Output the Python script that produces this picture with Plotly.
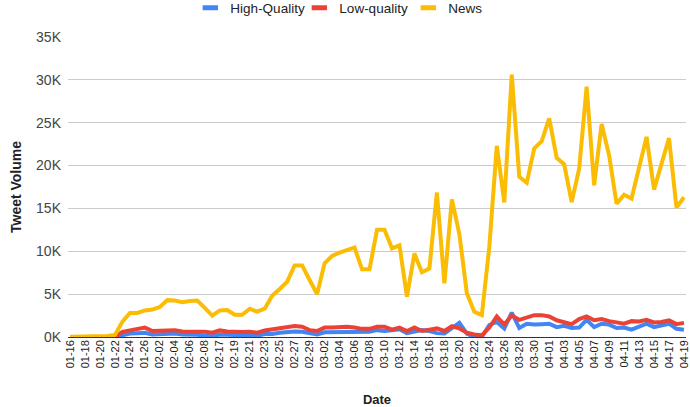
import plotly.graph_objects as go

dates = (["01-%02d" % d for d in range(16, 28)]
         + ["02-%02d" % d for d in range(2, 10)]
         + ["02-%02d" % d for d in range(17, 30)]
         + ["03-%02d" % d for d in range(1, 32)]
         + ["04-%02d" % d for d in range(1, 20)])

news = [20, 30, 40, 60, 90, 130, 250, 1800, 2800, 2800, 3100, 3200, 3500, 4300, 4250,
        4050, 4200, 4250, 3400, 2500, 3100, 3150, 2600, 2600, 3300, 2950, 3300, 4800,
        5600, 6450, 8350, 8350, 6650, 5000, 8600, 9450, 9850, 10150, 10450, 7900, 7900,
        12500, 12500, 10350, 10700, 4700, 9750, 7550, 8000, 16850, 6250, 16050, 12000,
        5100, 2950, 2550, 10500, 22300, 15700, 30600, 18700, 18000, 22000, 22850, 25500,
        20900, 20150, 15750, 19650, 29200, 17700, 24850, 21200, 15550, 16600, 16150,
        20000, 23350, 17200, 20400, 23200, 15100, 16300]

low_quality = [0, 0, 0, 0, 0, 0, 0, 600, 770, 870, 1100, 700, 700, 800, 800, 650, 650,
               700, 600, 500, 770, 650, 580, 580, 600, 500, 770, 900, 1000, 1050, 1280,
               1200, 800, 700, 1100, 1100, 1200, 1200, 1100, 950, 950, 1200, 1200, 850,
               1100, 700, 1100, 700, 850, 1000, 700, 1250, 1000, 500, 300, 200, 1100,
               2400, 1450, 2500, 2000, 2250, 2550, 2550, 2400, 1950, 1750, 1500, 2100,
               2400, 1950, 2100, 1850, 1650, 1550, 1850, 1800, 2000, 1700, 1750, 1950,
               1500, 1650]

high_quality = [0, 0, 0, 0, 0, 0, 0, 200, 400, 450, 500, 300, 350, 400, 400, 300, 300,
                250, 150, 100, 300, 250, 200, 200, 250, 150, 350, 350, 500, 600, 650,
                600, 400, 300, 550, 550, 550, 650, 550, 550, 600, 800, 700, 800, 900,
                450, 650, 800, 700, 450, 400, 1000, 1650, 400, 0, 0, 1400, 1750, 1000,
                2850, 1050, 1550, 1450, 1500, 1550, 1150, 1300, 1050, 1100, 2000, 1150,
                1550, 1450, 1050, 1100, 850, 1150, 1550, 1150, 1350, 1550, 950, 850]

y_tick_vals = [0, 5000, 10000, 15000, 20000, 25000, 30000, 35000]
y_tick_text = ["0K", "5K", "10K", "15K", "20K", "25K", "30K", "35K"]

series_names = ["High-Quality", "Low-quality", "News"]
series_colors = ["#4285F4", "#EA4335", "#FBBC04"]

FONT = "Arial, Liberation Sans, sans-serif"

fig = go.Figure()
for name, vals, col in zip(series_names, [high_quality, low_quality, news], series_colors):
    fig.add_trace(go.Scatter(x=dates, y=vals, mode="lines", name=name,
                             line=dict(color=col, width=4), showlegend=False,
                             hoverinfo="x+y+name"))
# legend-only entries with short bar symbols
for name, col in zip(series_names, series_colors):
    fig.add_trace(go.Scatter(x=[None], y=[None], mode="markers", name=name,
                             marker=dict(symbol="line-ew", size=11, color=col,
                                         line=dict(width=5, color=col)),
                             showlegend=True))

fig.update_layout(
    width=690, height=407,
    margin=dict(l=68, r=4, t=37, b=70, autoexpand=False),
    paper_bgcolor="white", plot_bgcolor="white",
    font=dict(family=FONT, color="#222222", size=13),
    legend=dict(orientation="h", x=0.198, xanchor="left", y=1.097, yanchor="middle",
                font=dict(size=13.5, color="#222222"), itemwidth=30,
                entrywidth=64, entrywidthmode="pixels",
                bgcolor="rgba(0,0,0,0)"),
    xaxis=dict(type="category", categoryorder="array", categoryarray=dates,
               range=[-0.27, 82.27], automargin=False,
               tickmode="array", tickvals=dates[::2], ticktext=dates[::2],
               tickangle=-90, tickfont=dict(size=11, color="#222222"),
               showgrid=False, showline=False, ticks="",
               title=dict(text="<b>Date</b>", font=dict(size=13, color="#222222"),
                          standoff=27)),
    yaxis=dict(range=[0, 35000], tickmode="array", tickvals=y_tick_vals,
               ticktext=y_tick_text, tickfont=dict(size=14, color="#444444"),
               showgrid=True, gridcolor="#cccccc", gridwidth=1, automargin=False,
               zeroline=True, zerolinecolor="#333333", zerolinewidth=1,
               ticks="", ticklabelstandoff=6,
               title=dict(text="<b>Tweet Volume</b>", font=dict(size=14, color="#222222"),
                          standoff=11)),
)

fig.write_html("out.html", config={"displayModeBar": False},
               post_script="document.body.style.margin='0';document.body.style.overflow='hidden';")
